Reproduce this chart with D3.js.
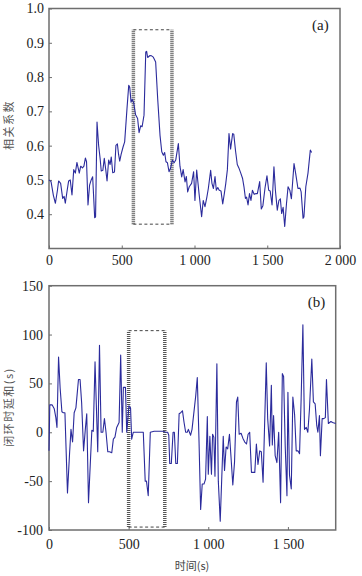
<!DOCTYPE html>
<html>
<head>
<meta charset="utf-8">
<script src="https://cdn.jsdelivr.net/npm/d3@7"></script>
<style>
  body { margin: 0; background: #fff; }
  svg { display: block; }
  #chart text { font-family: "Liberation Serif", "DejaVu Serif", serif; }
  #chart text.cjk { font-family: "Noto Sans CJK SC", sans-serif; }
</style>
</head>
<body>
<svg id="chart" width="362" height="576"></svg>
<script>
// panel (a): correlation coefficient over time
const corrTime = [0, 14, 30, 44, 58, 66, 80, 94, 104, 112, 125, 135, 146, 158, 170, 181, 192, 208, 218, 230,
  240, 250, 258, 268, 279, 290, 300, 314, 320, 330, 341, 352, 359, 370, 380, 390, 399, 410, 420, 428,
  438, 450, 460, 470, 478, 486, 496, 509, 520, 536, 548, 555, 564, 572, 582, 595, 609, 619, 630, 640,
  653, 665, 671, 678, 694, 705, 717, 733, 747, 763, 775, 786, 795, 804, 814, 825, 836, 848, 860, 871,
  889, 900, 912, 922, 935, 944, 953, 964, 980, 994, 1003, 1015, 1031, 1049, 1060, 1072, 1085, 1095, 1111, 1120,
  1130, 1141, 1150, 1160, 1170, 1182, 1194, 1205, 1215, 1226, 1237, 1248, 1262, 1270, 1282, 1294, 1305, 1318, 1330, 1340,
  1350, 1358, 1368, 1378, 1388, 1398, 1410, 1420, 1432, 1448, 1459, 1470, 1485, 1498, 1510, 1520, 1533, 1546, 1556, 1569,
  1580, 1590, 1599, 1609, 1620, 1632, 1643, 1655, 1666, 1684, 1695, 1711, 1725, 1733, 1746, 1752, 1765, 1780, 1796, 1805];
const corrValue = [0.500, 0.495, 0.455, 0.432, 0.470, 0.497, 0.490, 0.446, 0.452, 0.432, 0.470, 0.497, 0.500, 0.456, 0.530, 0.520, 0.551, 0.520, 0.540, 0.535,
  0.540, 0.564, 0.553, 0.427, 0.485, 0.500, 0.509, 0.390, 0.392, 0.669, 0.601, 0.560, 0.526, 0.528, 0.563, 0.530, 0.497, 0.558, 0.545, 0.567,
  0.521, 0.523, 0.601, 0.605, 0.575, 0.555, 0.575, 0.596, 0.611, 0.708, 0.776, 0.770, 0.727, 0.735, 0.725, 0.690, 0.679, 0.638, 0.658, 0.655,
  0.689, 0.873, 0.875, 0.857, 0.863, 0.862, 0.858, 0.844, 0.737, 0.630, 0.582, 0.572, 0.580, 0.553, 0.550, 0.524, 0.535, 0.558, 0.550, 0.558,
  0.606, 0.540, 0.509, 0.530, 0.494, 0.510, 0.465, 0.480, 0.490, 0.524, 0.440, 0.529, 0.461, 0.393, 0.440, 0.422, 0.450, 0.475, 0.528, 0.490,
  0.475, 0.510, 0.470, 0.478, 0.470, 0.468, 0.430, 0.460, 0.490, 0.530, 0.635, 0.590, 0.635, 0.633, 0.585, 0.545, 0.535, 0.520, 0.505, 0.480,
  0.446, 0.450, 0.427, 0.460, 0.440, 0.470, 0.458, 0.460, 0.460, 0.495, 0.415, 0.425, 0.478, 0.512, 0.470, 0.468, 0.427, 0.538, 0.470, 0.412,
  0.440, 0.445, 0.402, 0.420, 0.364, 0.430, 0.480, 0.470, 0.445, 0.548, 0.520, 0.475, 0.476, 0.465, 0.388, 0.392, 0.480, 0.520, 0.587, 0.580];

// panel (b): closed-loop delay sum over time
const delayTime = [0, 5, 20, 33, 43, 50, 60, 70, 81, 90, 100, 116, 129, 138, 148, 158, 169, 185, 195, 205,
  217, 228, 237, 248, 269, 278, 289, 306, 317, 327, 338, 348, 358, 369, 380, 394, 404, 414, 425, 440,
  450, 460, 467, 480, 488, 502, 512, 519, 529, 592, 604, 612, 623, 636, 660, 717, 733, 745, 752, 758,
  768, 779, 787, 796, 806, 817, 827, 838, 848, 858, 868, 875, 889, 898, 921, 931, 942, 952, 962, 973,
  983, 994, 1000, 1010, 1020, 1027, 1035, 1042, 1054, 1063, 1075, 1085, 1094, 1102, 1112, 1122, 1133, 1143, 1154, 1165,
  1177, 1185, 1194, 1206, 1217, 1229, 1240, 1250, 1260, 1271, 1292, 1302, 1312, 1323, 1333, 1344, 1364, 1373, 1385, 1396,
  1402, 1410, 1420, 1431, 1442, 1454, 1465, 1473, 1483, 1494, 1500, 1510, 1521, 1531, 1542, 1552, 1563, 1573, 1583, 1594,
  1604, 1615, 1625, 1635, 1650, 1660, 1671, 1681, 1688, 1698, 1704, 1715, 1725, 1735, 1742, 1754, 1770, 1780, 1800];
const delayValue = [-19, 28, 28, 24, 15, 5, 77, 45, 21, 20, 20, -62, -22, 3, -10, 20, 25, 54, 54, 30,
  -19, 3, 19, -72, 2, 1, 72, -20, 89, 0, 0, 14, 0, -20, -20, -21, -7, -5, 5, 10,
  79, 0, 46, 46, 0, 27, 25, -7, 0, 0, -50, -50, -65, 0, 1, 1, 0, 0, -3, -32,
  -32, 0, 0, -32, -32, 19, 20, 22, 10, 0, 0, 3, -3, 3, 37, 56, -10, -79, -53, -53,
  -48, 16, -43, -4, -43, -2, -5, -45, 70, -50, -91, -45, -4, -39, -15, -17, -2, -26, -54, -30,
  31, 36, -2, -1, -6, -10, -12, -2, 0, -41, -41, -12, -33, -19, -20, -51, 71, 14, -14, 48,
  -13, 17, -24, -31, 0, -72, 60, 57, -14, -65, 41, -44, -58, 36, 18, -19, -19, -22, 34, 110,
  3, 5, 0, 23, 75, 31, 29, 7, 0, 17, -24, 14, 14, 15, 54, 9, 11, 10, 9];

// highlighted windows [start, end, low, high]
const windowA = [580, 845, 0.371, 0.938];
const windowB = [500, 727, -97, 104];

// tick values and their printed labels
const corrXTicks = [0, 500, 1000, 1500, 2000];
const corrXLabels = ["0", "500", "1 000", "1 500", "2 000"];
const corrYTicks = [0.4, 0.5, 0.6, 0.7, 0.8, 0.9, 1.0];
const delayXTicks = [0, 500, 1000, 1500];
const delayXLabels = ["0", "500", "1 000", "1 500"];
const delayYTicks = [-100, -50, 0, 50, 100, 150];
const delayYLabels = ["-100", "-50", "0", "50", "100", "150"];

const svg = d3.select("#chart");
const lineColor = "#2b2b9c";
const frameColor = "#6e6e6e";

function panel(opt) {
  const x = d3.scaleLinear().domain(opt.xDomain).range([opt.left, opt.right]);
  const y = d3.scaleLinear().domain(opt.yDomain).range([opt.bottom, opt.top]);

  const xAxis = svg.append("g")
    .attr("transform", `translate(0,${opt.bottom})`)
    .call(d3.axisBottom(x)
      .tickValues(opt.xTicks)
      .tickFormat((d, i) => opt.xLabels[i])
      .tickSizeInner(-3).tickSizeOuter(0).tickPadding(opt.xPad));
  const yAxis = svg.append("g")
    .attr("transform", `translate(${opt.left},0)`)
    .call(d3.axisLeft(y)
      .tickValues(opt.yTicks)
      .tickFormat((d, i) => opt.yLabels(d, i))
      .tickSizeInner(-3).tickSizeOuter(0).tickPadding(opt.yPad));

  [xAxis, yAxis].forEach(g => {
    g.attr("font-family", null).attr("font-size", null);
    g.select(".domain").remove();
    g.selectAll(".tick line").attr("stroke", frameColor).attr("stroke-width", 1);
    g.selectAll(".tick text")
      .attr("fill", "#222")
      .style("font-size", "14px");
  });

  // frame
  svg.append("rect")
    .attr("x", opt.left).attr("y", opt.top)
    .attr("width", opt.right - opt.left).attr("height", opt.bottom - opt.top)
    .attr("fill", "none")
    .attr("stroke", frameColor)
    .attr("stroke-width", 1.5);

  // highlight window
  const w = opt.window;
  const box = svg.append("g");
  [w[2], w[3]].forEach(v => {
    box.append("line")
      .attr("x1", x(w[0])).attr("x2", x(w[1]))
      .attr("y1", y(v)).attr("y2", y(v))
      .attr("stroke", "#444").attr("stroke-width", 1)
      .attr("stroke-dasharray", "3,2.5");
  });
  [w[0], w[1]].forEach(v => {
    box.append("line")
      .attr("x1", x(v)).attr("x2", x(v))
      .attr("y1", y(w[2])).attr("y2", y(w[3]))
      .attr("stroke", "#555").attr("stroke-width", 3.5)
      .attr("stroke-dasharray", "1,1");
  });

  // series
  const line = d3.line()
    .x((d, i) => x(opt.xs[i]))
    .y(d => y(d));
  svg.append("path")
    .datum(opt.ys)
    .attr("d", line)
    .attr("fill", "none")
    .attr("stroke", lineColor)
    .attr("stroke-width", 1.1)
    .attr("stroke-linejoin", "round");

  // panel tag
  svg.append("text")
    .attr("x", opt.right - 28).attr("y", opt.top + 21)
    .attr("fill", "#222")
    .style("font-size", "15px")
    .text(opt.tag);

  // y title
  svg.append("text")
    .attr("class", "cjk")
    .attr("transform", `translate(13,${opt.yTitleAt}) rotate(-90)`)
    .attr("text-anchor", "middle")
    .attr("fill", "#555")
    .style("font-size", "11px")
    .style("letter-spacing", "1.5px")
    .text(opt.yTitle);
}

panel({
  xDomain: [0, 2000], yDomain: [0.3, 1.0],
  left: 49, right: 340, top: 8.5, bottom: 248.5,
  xTicks: corrXTicks, xLabels: corrXLabels, xPad: 7,
  yTicks: corrYTicks, yLabels: d => d3.format(".1f")(d), yPad: 5,
  xs: corrTime, ys: corrValue,
  window: windowA, tag: "(a)",
  yTitle: "相关系数", yTitleAt: 125
});

panel({
  xDomain: [0, 1800], yDomain: [-100, 150],
  left: 49, right: 335.7, top: 285.7, bottom: 530,
  xTicks: delayXTicks, xLabels: delayXLabels, xPad: 9,
  yTicks: delayYTicks, yLabels: (d, i) => delayYLabels[i], yPad: 6,
  xs: delayTime, ys: delayValue,
  window: windowB, tag: "(b)",
  yTitle: "闭环时延和(s)", yTitleAt: 407
});

svg.append("text")
  .attr("class", "cjk")
  .attr("x", 192).attr("y", 570)
  .attr("text-anchor", "middle")
  .attr("fill", "#444")
  .style("font-size", "11px")
  .text("时间(s)");
</script>
</body>
</html>
